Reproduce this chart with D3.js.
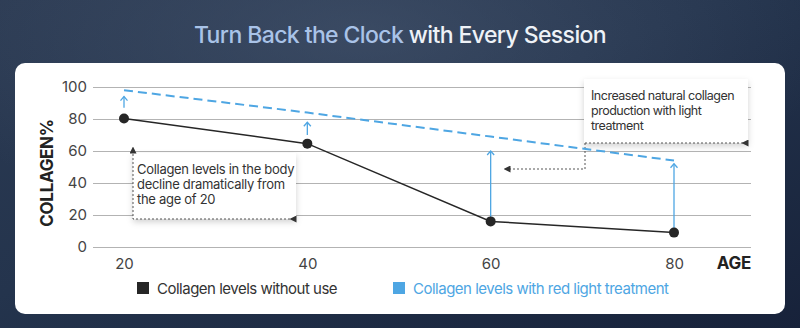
<!DOCTYPE html>
<html>
<head>
<meta charset="utf-8">
<script src="https://cdn.jsdelivr.net/npm/d3@7"></script>
<style>
  html, body { margin: 0; padding: 0; background: #1d2a40; }
  svg { display: block; font-family: Inter, "Noto Sans", sans-serif; }
</style>
</head>
<body>
<div id="chart"></div>
<script>
var ages = [20, 40, 60, 80];
var withoutUse = [80.3, 64.6, 16, 9];
var withLight = [98, 84, 69, 54];
// blue arrows: from / to, in collagen %
var arrowFrom = [87, 70, 16, 9];
var arrowTo = [94, 78, 60, 52];
var yTicks = [0, 20, 40, 60, 80, 100];
var note1 = ["Collagen levels in the body", "decline dramatically from", "the age of 20"];
var note2 = ["Increased natural collagen", "production with light", "treatment"];
var legendNames = ["Collagen levels without use", "Collagen levels with red light treatment"];

var wide = 800;
var high = 328;
var black = "#262626";
var blue = "#4ea6e3";

var svg = d3.select("#chart")
  .append("svg")
  .attr("width", wide)
  .attr("height", high);

var defs = svg.append("defs");

var bg = defs.append("linearGradient").attr("id", "bg")
  .attr("x1", "0").attr("y1", "0").attr("x2", "1").attr("y2", "1");
bg.append("stop").attr("offset", "0%").attr("stop-color", "#2b3a52");
bg.append("stop").attr("offset", "45%").attr("stop-color", "#24344d");
bg.append("stop").attr("offset", "100%").attr("stop-color", "#17223a");

var glow = defs.append("radialGradient").attr("id", "glow")
  .attr("cx", "0.45").attr("cy", "0.1").attr("r", "0.6");
glow.append("stop").attr("offset", "0%").attr("stop-color", "#4a5a73").attr("stop-opacity", 0.55);
glow.append("stop").attr("offset", "100%").attr("stop-color", "#4a5a73").attr("stop-opacity", 0);

var shadow = defs.append("filter").attr("id", "shadow")
  .attr("x", "-20%").attr("y", "-20%").attr("width", "140%").attr("height", "150%");
shadow.append("feDropShadow").attr("dx", 0).attr("dy", 3).attr("stdDeviation", 3)
  .attr("flood-color", "#000").attr("flood-opacity", 0.18);

// triangle pointing along the path
defs.append("marker").attr("id", "tri")
  .attr("viewBox", "0 0 10 10").attr("refX", 5).attr("refY", 5)
  .attr("markerWidth", 7).attr("markerHeight", 7)
  .attr("orient", "auto-start-reverse")
  .append("path").attr("d", "M0,0 L10,5 L0,10 Z").attr("fill", "#333");
// triangle pointing back against the path
defs.append("marker").attr("id", "triBack")
  .attr("viewBox", "0 0 10 10").attr("refX", 5).attr("refY", 5)
  .attr("markerWidth", 7).attr("markerHeight", 7)
  .attr("orient", "auto")
  .append("path").attr("d", "M10,0 L0,5 L10,10 Z").attr("fill", "#333");

svg.append("rect").attr("width", wide).attr("height", high).attr("fill", "url(#bg)");
svg.append("rect").attr("width", wide).attr("height", high).attr("fill", "url(#glow)");

// title
var title = svg.append("text")
  .attr("x", wide / 2).attr("y", 43)
  .attr("text-anchor", "middle")
  .attr("font-size", 23).attr("font-weight", 500)
  .attr("letter-spacing", -0.6);
title.append("tspan").attr("fill", "#a9c3e8").text("Turn Back the Clock ");
title.append("tspan").attr("fill", "#eef2f7").text("with Every Session");

// card
svg.append("rect")
  .attr("x", 15).attr("y", 63).attr("width", 770).attr("height", 251)
  .attr("rx", 10).attr("fill", "#ffffff");

var xScale = d3.scaleLinear().domain([20, 80]).range([124, 674]);
var yScale = d3.scaleLinear().domain([0, 100]).range([247, 87]);

var yAxis = d3.axisLeft(yScale).tickValues(yTicks)
  .tickSize(-(751 - 93)).tickPadding(6);
var yG = svg.append("g")
  .attr("transform", "translate(93,0)")
  .call(yAxis);
yG.select(".domain").remove();
yG.selectAll("line").attr("stroke", "#b3b3b3");
yG.selectAll("text").attr("font-size", 15).attr("fill", "#444")
  .attr("font-family", "Inter, sans-serif");

var xAxis = d3.axisBottom(xScale).tickValues(ages).tickSize(0).tickPadding(11);
var xG = svg.append("g")
  .attr("transform", "translate(0,247)")
  .call(xAxis);
xG.select(".domain").remove();
xG.selectAll("text").attr("font-size", 15).attr("fill", "#444")
  .attr("font-family", "Inter, sans-serif");

svg.append("text")
  .attr("transform", "translate(53,173) rotate(-90)")
  .attr("text-anchor", "middle")
  .attr("font-size", 17).attr("font-weight", 700).attr("fill", "#222")
  .attr("letter-spacing", -0.3)
  .text("COLLAGEN%");

svg.append("text")
  .attr("x", 751).attr("y", 269)
  .attr("text-anchor", "end")
  .attr("font-size", 17).attr("font-weight", 700).attr("fill", "#222")
  .attr("letter-spacing", -0.3)
  .text("AGE");

// annotation 1
svg.append("rect")
  .attr("x", 133).attr("y", 153).attr("width", 163).attr("height", 66)
  .attr("fill", "#fff").attr("filter", "url(#shadow)");
svg.append("path")
  .attr("d", "M133,150 L133,219 L293,219")
  .attr("fill", "none").attr("stroke", "#555").attr("stroke-width", 1)
  .attr("stroke-dasharray", "2,2")
  .attr("marker-start", "url(#tri)")
  .attr("marker-end", "url(#triBack)");
svg.append("g").selectAll("text")
  .data(note1).enter()
  .append("text")
  .attr("x", 137)
  .attr("y", function(d, i) { return 174 + i * 15; })
  .attr("font-size", 13).attr("fill", "#333").attr("letter-spacing", -0.3)
  .text(function(d) { return d; });

// annotation 2
svg.append("rect")
  .attr("x", 584).attr("y", 79).attr("width", 164).attr("height", 64)
  .attr("fill", "#fff").attr("filter", "url(#shadow)");
svg.append("path")
  .attr("d", "M585,143 L745,143")
  .attr("fill", "none").attr("stroke", "#555").attr("stroke-width", 1)
  .attr("stroke-dasharray", "2,2")
  .attr("marker-end", "url(#triBack)");
svg.append("path")
  .attr("d", "M585,143 L585,169 L507,169")
  .attr("fill", "none").attr("stroke", "#555").attr("stroke-width", 1)
  .attr("stroke-dasharray", "2,2")
  .attr("marker-end", "url(#tri)");
svg.append("g").selectAll("text")
  .data(note2).enter()
  .append("text")
  .attr("x", 591)
  .attr("y", function(d, i) { return 100 + i * 15; })
  .attr("font-size", 12.5).attr("fill", "#333").attr("letter-spacing", -0.5)
  .text(function(d) { return d; });

// dashed treatment line
var lightLine = d3.line()
  .x(function(d, i) { return xScale(ages[i]); })
  .y(function(d) { return yScale(d); });
svg.append("path")
  .datum(withLight)
  .attr("d", lightLine)
  .attr("fill", "none").attr("stroke", blue).attr("stroke-width", 2)
  .attr("stroke-dasharray", "9,5");

// blue arrows
var arrows = svg.append("g").selectAll("g")
  .data(ages).enter().append("g");
arrows.append("line")
  .attr("x1", function(d) { return xScale(d); })
  .attr("x2", function(d) { return xScale(d); })
  .attr("y1", function(d, i) { return yScale(arrowFrom[i]); })
  .attr("y2", function(d, i) { return yScale(arrowTo[i]); })
  .attr("stroke", blue).attr("stroke-width", 1.3);
arrows.append("path")
  .attr("d", function(d, i) {
    var x = xScale(d), y = yScale(arrowTo[i]);
    return "M" + (x - 3.5) + "," + (y + 4) + " L" + x + "," + y + " L" + (x + 3.5) + "," + (y + 4);
  })
  .attr("fill", "none").attr("stroke", blue).attr("stroke-width", 1.3);

// black line with dots
var baseLine = d3.line()
  .x(function(d, i) { return xScale(ages[i]); })
  .y(function(d) { return yScale(d); });
svg.append("path")
  .datum(withoutUse)
  .attr("d", baseLine)
  .attr("fill", "none").attr("stroke", black).attr("stroke-width", 1.5);
svg.append("g").selectAll("circle")
  .data(withoutUse).enter()
  .append("circle")
  .attr("cx", function(d, i) { return xScale(ages[i]); })
  .attr("cy", function(d) { return yScale(d); })
  .attr("r", 5)
  .attr("fill", black);

// legend
var legendX = [137, 393];
var legendColor = [black, "#4ea6e3"];
var legendText = ["#333", "#4ea6e3"];
var legend = svg.append("g").selectAll("g")
  .data(legendNames).enter().append("g")
  .attr("transform", function(d, i) { return "translate(" + legendX[i] + ",288)"; });
legend.append("rect")
  .attr("x", 0).attr("y", -6).attr("width", 12).attr("height", 12)
  .attr("fill", function(d, i) { return legendColor[i]; });
legend.append("text")
  .attr("x", 20).attr("y", 5.5)
  .attr("font-size", 15).attr("letter-spacing", -0.5)
  .attr("fill", function(d, i) { return legendText[i]; })
  .text(function(d) { return d; });
</script>
</body>
</html>
